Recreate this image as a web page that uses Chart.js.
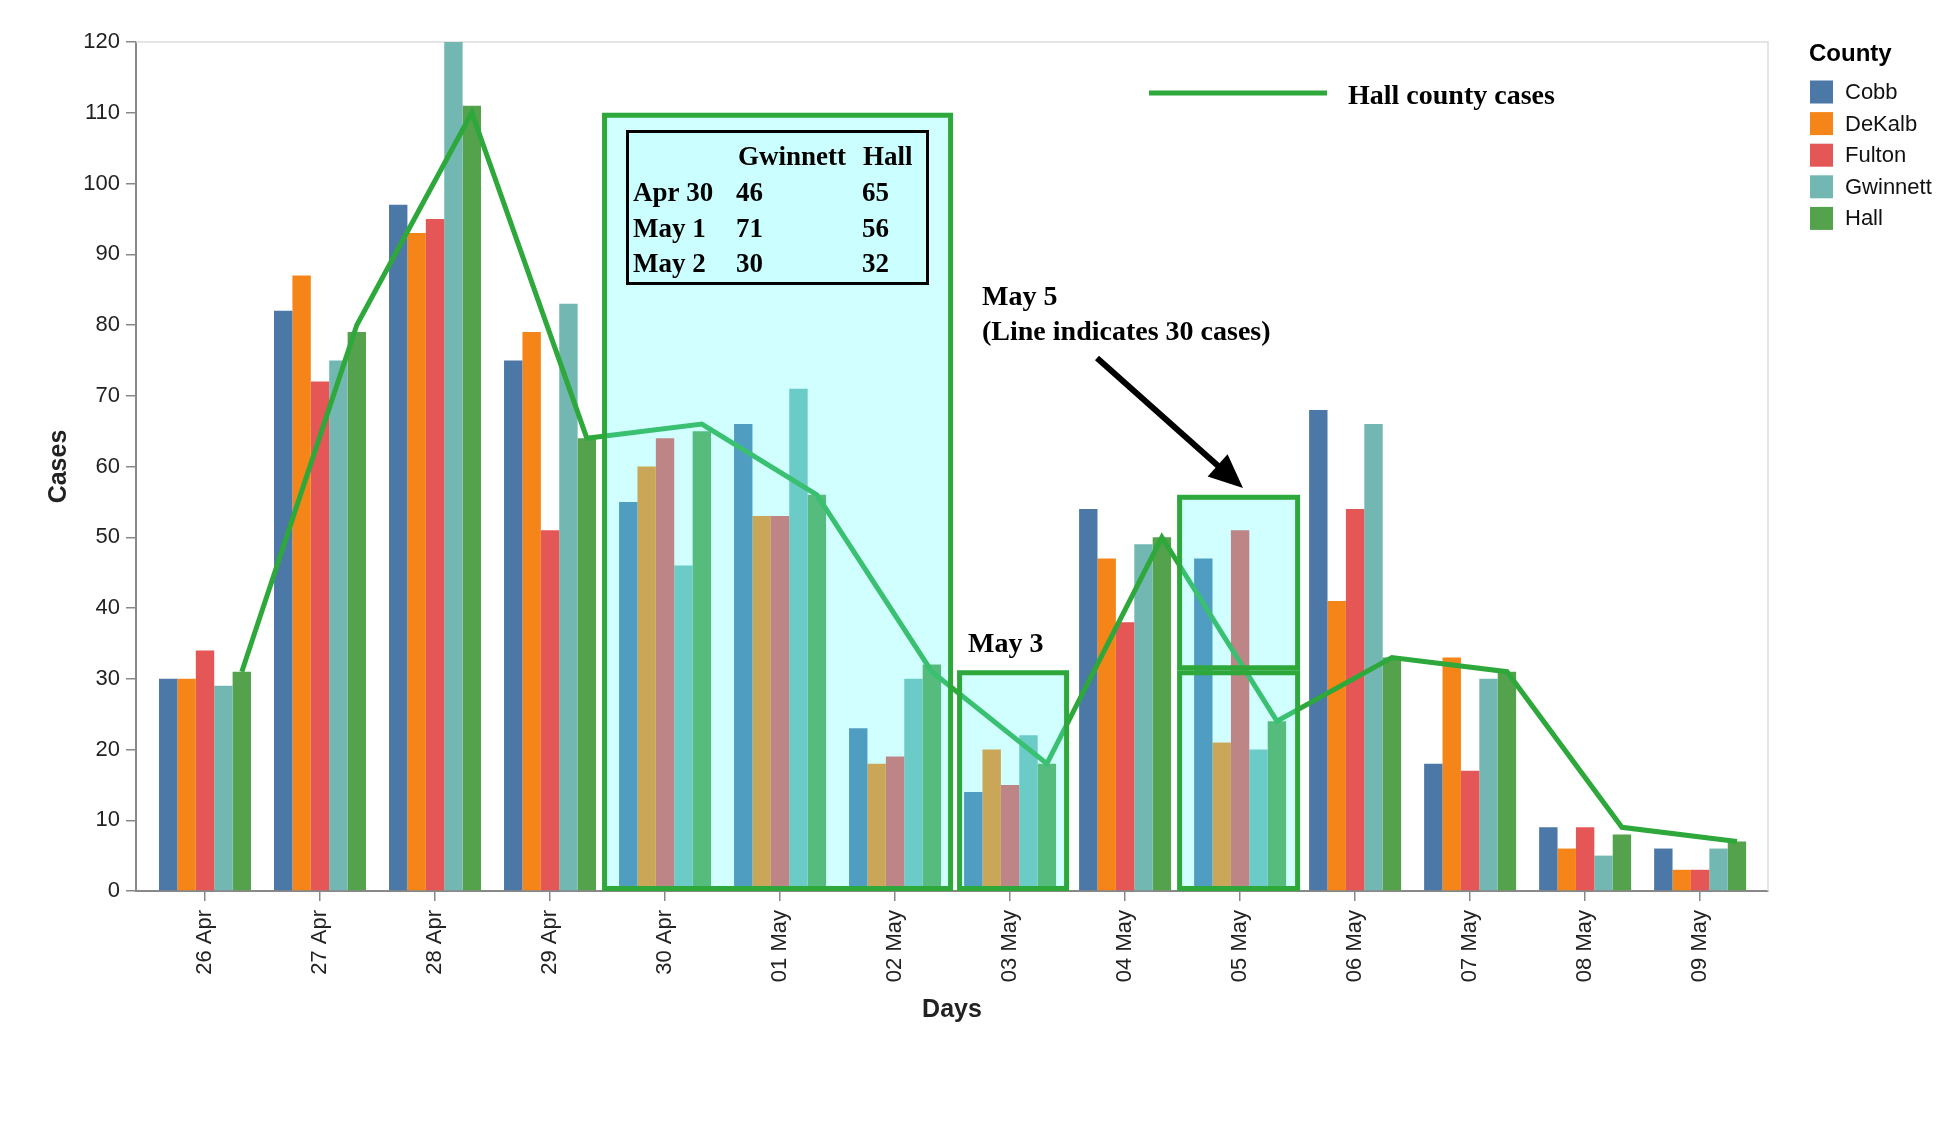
<!DOCTYPE html>
<html>
<head>
<meta charset="utf-8">
<title>County cases</title>
<script src="https://cdn.jsdelivr.net/npm/chart.js@4.4.0/dist/chart.umd.min.js"></script>
<style>
  html, body { margin: 0; padding: 0; background: #fff; }
</style>
</head>
<body>
<canvas id="casesChart" width="1937" height="1145"></canvas>
<script>
// data

const days = ["26 Apr", "27 Apr", "28 Apr", "29 Apr", "30 Apr", "01 May", "02 May",
              "03 May", "04 May", "05 May", "06 May", "07 May", "08 May", "09 May"];

const cobb     = [30, 82, 97, 75, 55, 66, 23, 14, 54, 47, 68, 18, 9, 6];
const dekalb   = [30, 87, 93, 79, 60, 53, 18, 20, 47, 21, 41, 33, 6, 3];
const fulton   = [34, 72, 95, 51, 64, 53, 19, 15, 38, 51, 54, 17, 9, 3];
const gwinnett = [29, 75, 122, 83, 46, 71, 30, 22, 49, 20, 66, 30, 5, 6];
const hall     = [31, 79, 111, 64, 65, 56, 32, 18, 50, 24, 33, 31, 8, 7];

// hand drawn "Hall county cases" line
const hallLine = [31, 80, 110, 64, 66, 56, 31, 18, 50, 24, 33, 31, 9, 7];

const tableRows = [
    ["Apr 30", "46", "65"],
    ["May 1", "71", "56"],
    ["May 2", "30", "32"]
];

const SANS = "'Liberation Sans', Arial, sans-serif";
const SERIF = "'Liberation Serif', 'Times New Roman', serif";
const GREEN = "#2ea83b";

// category bands are 115px apart with a small outer padding
function bandShift(scale) {
    scale._startValue = -0.6;
    scale._valueRange = 14.19;
}


// the Hall line sits on the Hall bars, not on the band centre

const onHallBars = {
    id: "onHallBars",
    beforeDatasetDraw(chart, args) {
        if (args.meta.type !== "line") return;
        const hallBar = chart.getDatasetMeta(4).data[0];
        const shift = hallBar.x - chart.scales.x.getPixelForValue(0);
        chart.ctx.save();
        chart.ctx.translate(shift, 0);
    },
    afterDatasetDraw(chart, args) {
        if (args.meta.type !== "line") return;
        chart.ctx.restore();
    }
};


// frame, highlight boxes and notes

const notes = {
    id: "notes",

    beforeDatasetsDraw(chart) {
        const { ctx, chartArea: a } = chart;
        ctx.save();
        ctx.strokeStyle = "#dddddd";
        ctx.lineWidth = 1.5;
        ctx.beginPath();
        ctx.moveTo(a.left, a.top);
        ctx.lineTo(a.right, a.top);
        ctx.lineTo(a.right, a.bottom);
        ctx.stroke();
        ctx.restore();
    },

    afterDatasetsDraw(chart) {
        const { ctx } = chart;
        const x = chart.scales.x;
        const y = chart.scales.y;
        const c = (i) => x.getPixelForValue(i);

        const rects = [
            [c(4) - 63, y.getPixelForValue(110), c(6) + 58, y.getPixelForValue(0)],
            [c(7) - 53, y.getPixelForValue(31.2), c(7) + 59, y.getPixelForValue(0)],
            [c(9) - 63, y.getPixelForValue(56), c(9) + 60, y.getPixelForValue(31.2)],
            [c(9) - 63, y.getPixelForValue(31.2), c(9) + 60, y.getPixelForValue(0)]
        ];

        ctx.save();

        // tinted overlay
        ctx.fillStyle = "rgba(90, 255, 255, 0.28)";
        rects.forEach(([l, t, r, b]) => ctx.fillRect(l, t, r - l, b - t));

        ctx.strokeStyle = GREEN;
        ctx.lineWidth = 5;
        rects.forEach(([l, t, r, b]) => ctx.strokeRect(l + 2.5, t + 2.5, r - l - 5, b - t - 5));

        // small table
        ctx.fillStyle = "#cbffff";
        ctx.fillRect(626, 130, 303, 155);
        ctx.strokeStyle = "#000";
        ctx.lineWidth = 3;
        ctx.strokeRect(627.5, 131.5, 300, 152);

        ctx.fillStyle = "#000";
        ctx.font = "bold 27px " + SERIF;
        ctx.textAlign = "left";
        ctx.textBaseline = "alphabetic";
        ctx.fillText("Gwinnett", 738, 165);
        ctx.fillText("Hall", 863, 165);
        tableRows.forEach((row, i) => {
            const by = 201 + i * 35.5;
            ctx.fillText(row[0], 633, by);
            ctx.fillText(row[1], 736, by);
            ctx.fillText(row[2], 862, by);
        });

        // notes
        ctx.font = "bold 28px " + SERIF;
        ctx.fillText("May 3", 968, 652);
        ctx.fillText("May 5", 982, 305);
        ctx.fillText("(Line indicates 30 cases)", 982, 340);

        // arrow
        const x0 = 1097, y0 = 358, x1 = 1243, y1 = 488;
        const ang = Math.atan2(y1 - y0, x1 - x0);
        const head = 34;
        ctx.strokeStyle = "#000";
        ctx.lineWidth = 6;
        ctx.beginPath();
        ctx.moveTo(x0, y0);
        ctx.lineTo(x1 - Math.cos(ang) * head * 0.8, y1 - Math.sin(ang) * head * 0.8);
        ctx.stroke();
        ctx.beginPath();
        ctx.moveTo(x1, y1);
        ctx.lineTo(x1 - Math.cos(ang) * head + Math.sin(ang) * 15, y1 - Math.sin(ang) * head - Math.cos(ang) * 15);
        ctx.lineTo(x1 - Math.cos(ang) * head - Math.sin(ang) * 15, y1 - Math.sin(ang) * head + Math.cos(ang) * 15);
        ctx.closePath();
        ctx.fill();

        // line legend
        ctx.strokeStyle = GREEN;
        ctx.lineWidth = 5;
        ctx.beginPath();
        ctx.moveTo(1149, 93);
        ctx.lineTo(1327, 93);
        ctx.stroke();
        ctx.fillText("Hall county cases", 1348, 104);

        // county legend
        ctx.font = "bold 24px " + SANS;
        ctx.fillText("County", 1809, 61);
        ctx.font = "22px " + SANS;
        ctx.textBaseline = "middle";
        chart.data.datasets.filter((d) => d.type !== "line").forEach((d, i) => {
            const cy = 92 + i * 31.6;
            ctx.fillStyle = d.backgroundColor;
            ctx.fillRect(1810, cy - 11.5, 23, 23);
            ctx.fillStyle = "#111";
            ctx.fillText(d.label, 1845, cy + 1);
        });

        ctx.restore();
    }
};


// chart

const bar = (label, data, color) => ({
    label: label,
    data: data,
    backgroundColor: color,
    order: 1,
    categoryPercentage: 0.8,
    barPercentage: 1.0
});

new Chart(document.getElementById("casesChart"), {

    type: "bar",

    data: {
        labels: days,
        datasets: [
            bar("Cobb", cobb, "#4c78a8"),
            bar("DeKalb", dekalb, "#f58518"),
            bar("Fulton", fulton, "#e45756"),
            bar("Gwinnett", gwinnett, "#72b7b2"),
            bar("Hall", hall, "#54a24b"),
            {
                type: "line",
                label: "Hall county cases",
                data: hallLine,
                borderColor: GREEN,
                borderWidth: 5,
                borderJoinStyle: "miter",
                pointRadius: 0,
                tension: 0,
                fill: false,
                order: 0
            }
        ]
    },

    options: {
        responsive: false,
        animation: false,
        layout: { padding: { left: 40, top: 42, right: 169, bottom: 116 } },
        plugins: {
            legend: { display: false },
            tooltip: { enabled: false }
        },
        scales: {
            x: {
                type: "category",
                offset: true,
                afterBuildTicks: bandShift,
                afterFit: (s) => { s.height = 138; },
                grid: { drawOnChartArea: false, offset: false, color: "#888", lineWidth: 1.5, tickLength: 10 },
                border: { color: "#888", width: 2 },
                ticks: {
                    autoSkip: false,
                    minRotation: 90,
                    maxRotation: 90,
                    padding: 9,
                    color: "#222",
                    font: { family: SANS, size: 22 }
                },
                title: {
                    display: true,
                    text: "Days",
                    color: "#222",
                    padding: { top: 0, bottom: 4 },
                    font: { family: SANS, size: 25, weight: "bold" }
                }
            },
            y: {
                min: 0,
                max: 120,
                afterFit: (s) => { s.width = 96; },
                grid: { drawOnChartArea: false, color: "#888", lineWidth: 1.5, tickLength: 10 },
                border: { color: "#888", width: 2 },
                ticks: {
                    stepSize: 10,
                    padding: 6,
                    color: "#222",
                    font: { family: SANS, size: 22 }
                },
                title: {
                    display: true,
                    text: "Cases",
                    color: "#222",
                    padding: { top: 4, bottom: 0 },
                    font: { family: SANS, size: 25, weight: "bold" }
                }
            }
        }
    },

    plugins: [onHallBars, notes]

});
</script>
</body>
</html>
